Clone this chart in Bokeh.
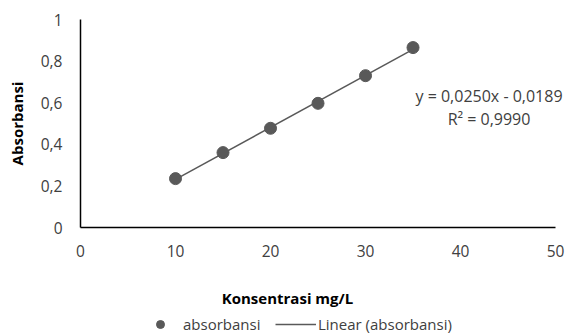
import numpy as np
from bokeh.plotting import figure
from bokeh.layouts import column
from bokeh.models import Label, Legend, LegendItem, FixedTicker, Range1d
from bokeh.embed import file_html
from bokeh.resources import INLINE

konsentrasi = [10, 15, 20, 25, 30, 35]
absorbansi = [0.235, 0.360, 0.477, 0.597, 0.730, 0.865]
slope, intercept = 0.0250, -0.0189
eq_text = "y = 0,0250x - 0,0189\nR\u00b2 = 0,9990"
x_ticks = [0, 10, 20, 30, 40, 50]
y_ticks = [0, 0.2, 0.4, 0.6, 0.8, 1.0]
y_tick_labels = ["0", "0,2", "0,4", "0,6", "0,8", "1"]
x_title = "Konsentrasi mg/L"
y_title = "Absorbansi"
legend_labels = ["absorbansi", "Linear (absorbansi)"]

FONT = "Open Sans"
C = "#595959"
TXT = "#404040"

# frame 80..567 px; x axis line drawn only over 0..50 (80..555 px)
p = figure(width=572, height=270, output_backend="svg", toolbar_location=None,
           x_range=Range1d(0, 51.26), y_range=Range1d(0, 1),
           min_border_left=80, min_border_right=5, min_border_top=19, min_border_bottom=43)
p.outline_line_color = None
p.grid.visible = False

xs = np.array([min(konsentrasi), max(konsentrasi)], dtype=float)
ys = slope * xs + intercept
p.line(xs, ys, line_color=C, line_width=1.5)
p.scatter(konsentrasi, absorbansi, size=12, fill_color=C, line_color=C)

for ax in (p.xaxis, p.yaxis):
    ax.axis_line_color = "black"
    ax.axis_line_width = 1.5
    ax.major_tick_line_color = None
    ax.minor_tick_line_color = None
    ax.major_label_text_font = FONT
    ax.major_label_text_font_size = "15.5px"
    ax.major_label_text_color = TXT
    ax.axis_label_text_font = FONT
    ax.axis_label_text_font_size = "15px"
    ax.axis_label_text_font_style = "bold"
    ax.axis_label_text_color = "black"

p.xaxis.bounds = (x_ticks[0], x_ticks[-1])
p.xaxis.ticker = FixedTicker(ticks=x_ticks)
p.yaxis.ticker = FixedTicker(ticks=y_ticks)
p.yaxis.major_label_overrides = {t: l for t, l in zip(y_ticks, y_tick_labels)}
p.xaxis.major_label_standoff = 11
p.yaxis.major_label_standoff = 12
p.yaxis.axis_label = y_title
p.yaxis.axis_label_standoff = 11

p.add_layout(Label(x=43.0, y=0.579, text=eq_text, text_font=FONT, text_font_size="16px",
                   text_color=TXT, text_align="center", text_baseline="middle",
                   text_line_height=1.05))

# strip below: x axis title + legend (its frame is aligned with the main frame, 80..567 px)
lg = figure(width=572, height=64, output_backend="svg", toolbar_location=None,
            x_axis_type=None, y_axis_type=None,
            x_range=Range1d(80, 567), y_range=Range1d(0, 64),
            min_border_left=0, min_border_right=0, min_border_top=0, min_border_bottom=0)
lg.grid.visible = False
lg.outline_line_color = None
lg.add_layout(Label(x=287, y=37, text=x_title, text_font=FONT, text_font_size="15px",
                    text_font_style="bold", text_color="black",
                    text_align="center", text_baseline="middle"))
r_pts = lg.scatter([-5], [-5], size=12, fill_color=C, line_color=C)
r_line = lg.line([-5, -4], [-5, -5], line_color=C, line_width=1.5)

common = dict(orientation="horizontal", label_text_font=FONT, label_text_font_size="15px",
              label_text_color=TXT, border_line_color=None, background_fill_alpha=0,
              padding=0, margin=0, spacing=0)
lg.add_layout(Legend(items=[LegendItem(label=legend_labels[0], renderers=[r_pts])],
                     location=(70, 0), glyph_width=20, label_standoff=13, **common))
lg.add_layout(Legend(items=[LegendItem(label=legend_labels[1], renderers=[r_line])],
                     location=(195, 0), glyph_width=41, label_standoff=2, **common))

layout = column(p, lg, spacing=0)
open("out.html", "w").write(file_html(layout, INLINE))
